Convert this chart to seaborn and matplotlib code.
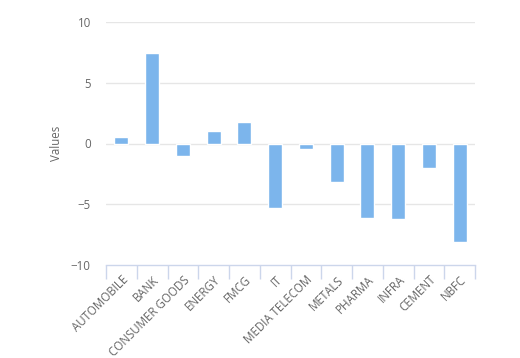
import numpy as np
import pandas as pd
import matplotlib.pyplot as plt
import seaborn as sns

sectors = ['AUTOMOBILE', 'BANK', 'CONSUMER GOODS', 'ENERGY', 'FMCG', 'IT',
           'MEDIA TELECOM', 'METALS', 'PHARMA', 'INFRA', 'CEMENT', 'NBFC']
values = [0.54, 7.42, -1.02, 1.01, 1.75, -5.32, -0.47, -3.15, -6.14, -6.22, -2.03, -8.11]
yticks = [-10, -5, 0, 5, 10]

df = pd.DataFrame({'Sector': sectors, 'Values': values})

sns.set_style('white')
plt.rcParams['font.family'] = ['Open Sans', 'DejaVu Sans']

fig = plt.figure(figsize=(5.2, 3.58), dpi=100)
ax = fig.add_axes([106/520, 1 - 265/358, (475-106)/520, (265-22)/358])

sns.barplot(data=df, x='Sector', y='Values', color='#7cb5ec', saturation=1,
            width=0.46, ax=ax, zorder=3)

ax.set_ylim(-10, 10)
ax.set_xlim(-0.5, len(sectors) - 0.5)
ax.set_yticks(yticks)
ax.set_yticklabels([str(t).replace('-', '\u2212') for t in yticks])
for t in yticks[1:]:
    ax.axhline(t, color='#e6e6e6', lw=1, zorder=1)

for s in ['top', 'right', 'left']:
    ax.spines[s].set_visible(False)
ax.spines['bottom'].set_color('#ccd6eb')
ax.spines['bottom'].set_linewidth(1)

# ticks at category boundaries
ax.set_xticks(np.arange(len(sectors) + 1) - 0.5, minor=True)
ax.set_xticks(np.arange(len(sectors)))
ax.set_xticklabels(sectors, rotation=45, ha='right', rotation_mode='anchor')
ax.tick_params(axis='x', which='minor', bottom=True, length=10, color='#ccd6eb',
               width=1, direction='out')
ax.tick_params(axis='x', which='major', length=0, pad=6, labelsize=8.3, labelcolor='#666666')
ax.tick_params(axis='y', length=0, pad=11, labelsize=8.3, labelcolor='#666666')

ax.set_xlabel('')
ax.set_ylabel('Values', color='#666666', fontsize=8.3, labelpad=6)

fig.savefig('out.png', dpi=100)
